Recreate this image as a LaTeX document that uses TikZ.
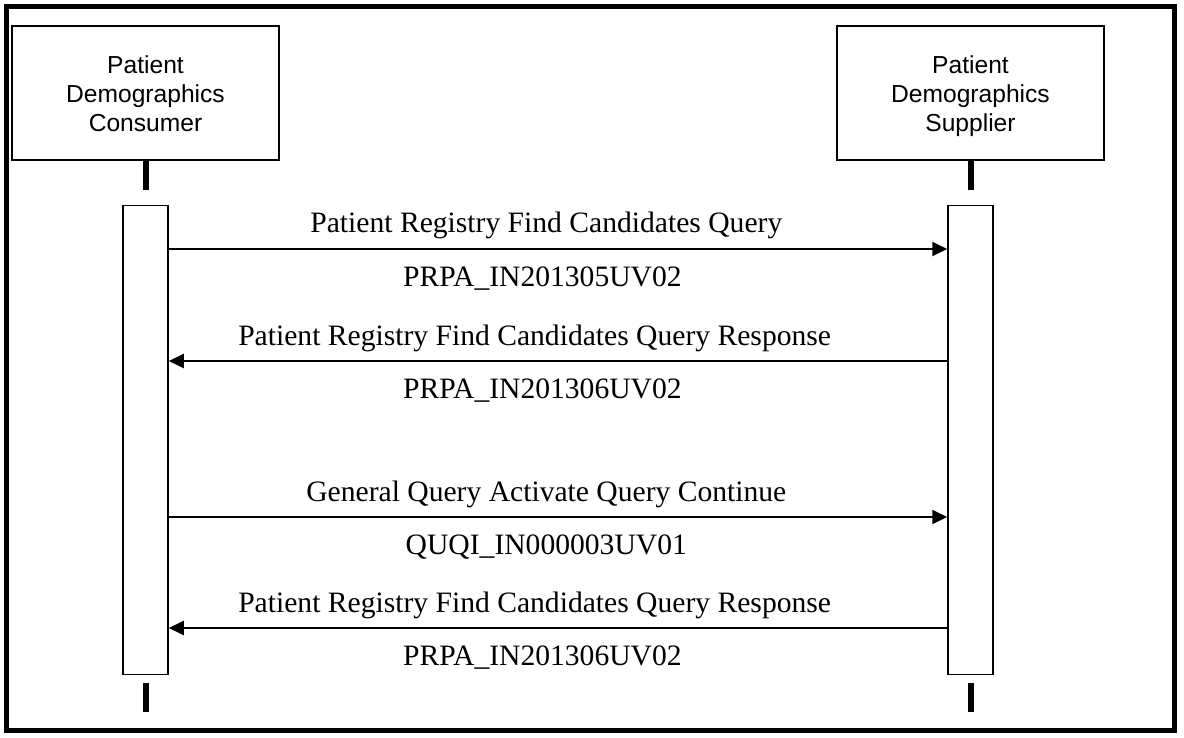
\documentclass[tikz,border=0pt]{standalone}
\usepackage{fontspec}
\setmainfont{Liberation Serif}
\newfontfamily\actorfont{Liberation Sans}
\usetikzlibrary{arrows.meta,positioning}

\begin{document}
\begin{tikzpicture}[x=0.5pt, y=-0.5pt, >={Triangle[length=7.5pt,width=7pt]},
    actor/.style={draw, line width=0.75pt, minimum width=133.5pt, minimum height=67pt,
      align=center, font=\actorfont\fontsize{12.3}{14.4}\selectfont},
    bar/.style={draw, line width=0.75pt, minimum width=22.5pt, minimum height=234.5pt, inner sep=0pt},
    lifeline/.style={line width=3pt},
    msg/.style={->, line width=1pt},
    msgname/.style={anchor=base, inner sep=0pt, yshift=8pt, font=\fontsize{14.8}{17}\selectfont},
    msgcode/.style={anchor=base, inner sep=0pt, yshift=-18.5pt, font=\fontsize{14.8}{17}\selectfont}]
    \useasboundingbox (0,0) rectangle (1184,738);
    \draw[line width=2.5pt] (6.5,6.5) rectangle (1174.5,730);

    \node[actor] (consumer) at (145.5,93) {\rule{0pt}{12pt}Patient\\Demographics\\Consumer\vphantom{p}};
    \node[actor] (supplier) at (970.5,93) {\rule{0pt}{12pt}Patient\\Demographics\\Supplier};
    \node[bar] (consumerbar) [below=22pt of consumer] {};
    \node[bar] (supplierbar) [below=22pt of supplier] {};

    \draw[lifeline] (consumer.south) -- ++(0,29);
    \draw[lifeline] (supplier.south) -- ++(0,29);
    \draw[lifeline] ([yshift=-4pt]consumerbar.south) -- ++(0,29);
    \draw[lifeline] ([yshift=-4pt]supplierbar.south) -- ++(0,29);

    \draw[msg] (consumerbar.east |- 0,249) --
      node[msgname, pos=.485] {Patient Registry Find Candidates Query}
      node[msgcode, pos=.48] {PRPA\_IN201305UV02} (supplierbar.west |- 0,249);
    \draw[msg] (supplierbar.west |- 0,361) --
      node[msgname, pos=.53] {Patient Registry Find Candidates Query Response}
      node[msgcode, pos=.52] {PRPA\_IN201306UV02} (consumerbar.east |- 0,361);
    \draw[msg] (consumerbar.east |- 0,517) --
      node[msgname, pos=.485] {General Query Activate Query Continue}
      node[msgcode, pos=.485] {QUQI\_IN000003UV01} (supplierbar.west |- 0,517);
    \draw[msg] (supplierbar.west |- 0,628) --
      node[msgname, pos=.53] {Patient Registry Find Candidates Query Response}
      node[msgcode, pos=.52] {PRPA\_IN201306UV02} (consumerbar.east |- 0,628);
\end{tikzpicture}
\end{document}
